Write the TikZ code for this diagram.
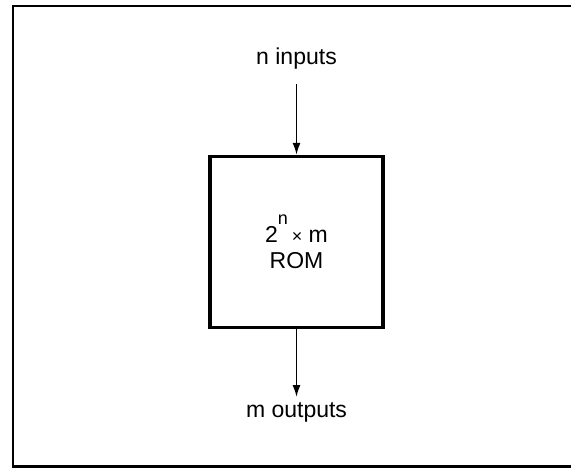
\documentclass[tikz,border=0pt]{standalone}
\usepackage{fontspec}
\setmainfont{Liberation Sans}
\usetikzlibrary{arrows.meta,positioning}
\tikzset{
  frame/.style={draw,line width=1.2pt},
  rombox/.style={draw,line width=1.6pt,minimum width=86.5pt,minimum height=85.5pt,
                 align=center,font=\fontsize{11.5}{13}\selectfont},
  lbl/.style={inner sep=0pt,font=\fontsize{11.5}{13}\selectfont},
  arr/.style={-{Latex[length=6pt,width=4pt]},line width=0.9pt},
}
\begin{document}
\begin{tikzpicture}[x=0.5pt,y=-0.5pt]
  \useasboundingbox (0,0) rectangle (571,469);
  % outer frame
  \draw[frame] (13,6) rectangle (580,466.5);

  \node[rombox] (ROM) at (296.5,242)
    {2\raisebox{9pt}{\fontsize{9}{9}\selectfont n}\,{\fontsize{9}{9}\selectfont ×} m\\ROM};
  \node[lbl,above=42.5pt of ROM] (IN)  {n inputs};
  \node[lbl,below=36.5pt of ROM] (OUT) {m outputs};

  % connectors
  \draw[arr,shorten <=7pt]   (IN)  -- (ROM);
  \draw[arr,shorten >=2.5pt] (ROM) -- (OUT);
\end{tikzpicture}
\end{document}
